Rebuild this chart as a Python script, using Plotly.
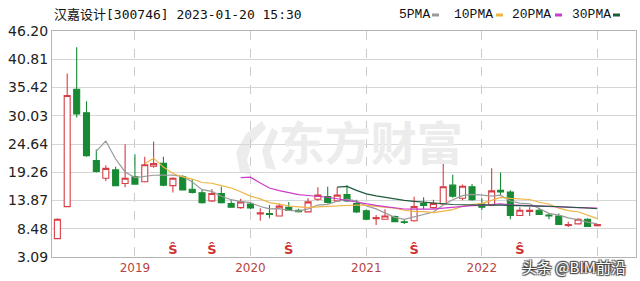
import plotly.graph_objects as go
import pandas as pd

# ---------------- data ----------------
months = pd.date_range("2018-05-01", periods=57, freq="MS").strftime("%Y-%m-%d").tolist()

opens = [6.6, 12.7, 35.1, 30.6, 21.5, 18.1, 19.7, 17.1, 18.4, 17.45, 20.4, 20.95,
         16.7, 18.4, 16.0, 15.35, 13.8, 15.2, 13.3, 12.5, 13.2, 11.3, 11.4, 10.9,
         12.55, 12.0, 11.7, 14.1, 14.6, 13.8, 15.0, 13.3, 11.9, 10.4, 10.3, 10.8,
         9.8, 10.0, 13.3, 12.5, 13.2, 16.8, 14.3, 16.5, 13.2, 13.0, 15.8, 15.5,
         11.0, 11.8, 12.0, 11.1, 10.9, 9.1, 9.4, 10.3, 9.05]
highs = [10.5, 38.1, 43.1, 32.8, 23.6, 20.6, 20.3, 24.6, 22.7, 22.2, 25.1, 22.2,
         18.3, 18.7, 17.9, 15.9, 16.0, 16.5, 13.9, 14.2, 13.6, 12.4, 13.0, 13.3,
         13.6, 12.3, 14.3, 16.4, 16.5, 16.4, 16.8, 14.0, 12.2, 11.1, 12.2, 11.0,
         10.2, 14.6, 14.5, 14.0, 21.3, 18.8, 16.9, 17.0, 14.3, 20.0, 19.2, 15.8,
         12.6, 12.6, 12.5, 11.5, 11.4, 9.8, 10.5, 10.5, 9.4]
lows = [6.5, 12.7, 29.7, 22.2, 19.2, 17.6, 16.6, 16.4, 16.9, 17.3, 20.1, 16.6,
        15.4, 15.8, 15.2, 13.3, 13.6, 13.3, 12.5, 12.3, 12.2, 10.0, 10.5, 10.8,
        11.85, 11.6, 11.6, 13.8, 13.3, 13.7, 13.6, 11.5, 10.1, 9.2, 10.2, 9.7,
        9.4, 9.8, 12.2, 12.3, 13.0, 14.4, 13.9, 13.8, 12.0, 12.8, 14.8, 10.3,
        10.9, 10.9, 11.1, 10.3, 9.2, 8.8, 9.3, 8.8, 8.9]
closes = [10.3, 33.9, 30.4, 22.4, 19.4, 20.0, 16.7, 18.1, 17.0, 20.7, 20.9, 16.8,
          18.1, 15.9, 15.4, 13.45, 15.2, 13.45, 12.6, 13.6, 12.45, 11.5, 11.2, 12.8,
          11.95, 11.75, 13.6, 14.9, 13.5, 14.9, 13.8, 11.7, 10.3, 10.6, 10.9, 9.8,
          9.7, 12.7, 12.9, 13.3, 16.5, 14.7, 16.6, 14.0, 12.6, 15.7, 15.5, 11.0,
          12.0, 12.0, 11.2, 10.9, 9.3, 9.3, 10.3, 8.9, 9.3]

dividend_months = ["2019-05-01", "2019-09-01", "2020-05-01", "2021-06-01", "2022-05-01"]

ma_names = ["5PMA", "10PMA", "20PMA", "30PMA"]
ma_periods = [5, 10, 20, 30]
ma_colors = ["#9a9a9a", "#efb443", "#cc3ccc", "#1e5a3c"]

y_ticks = [3.09, 8.48, 13.87, 19.26, 24.64, 30.03, 35.42, 40.81, 46.20]
y_tick_labels = ["3.09", "8.48", "13.87", "19.26", "24.64", "30.03", "35.42", "40.81", "46.20"]
year_ticks = ["2019-01-01", "2020-01-01", "2021-01-01", "2022-01-01", "2023-01-01"]
year_labels = ["2019", "2020", "2021", "2022", "2023"]

title_text = "汉嘉设计[300746] 2023-01-20 15:30"
watermark_text = "东方财富"
credit_text = "头条 @BIM前沿"

# ---------------- layout helpers ----------------
W, H = 640, 281
ML, MR, MT, MB = 52, 4, 31, 24
PW, PH = W - ML - MR, H - MT - MB


def px_x(p):
    return (p - ML) / PW


def px_y(p):
    return (H - MB - p) / PH


Y_MIN, Y_MAX = y_ticks[0], y_ticks[-1]
X_RANGE = ["2018-04-14", "2023-05-03"]

fig = go.Figure()

# watermark (drawn first so it stays beneath the candles)
fig.add_trace(go.Scatter(
    x=["2021-01-15"], y=[Y_MIN + (Y_MAX - Y_MIN) * 0.48], mode="text", text=[watermark_text],
    textfont=dict(family="Noto Sans CJK SC", size=46, color="#ececec", weight="bold"),
    hoverinfo="skip", showlegend=False))

fig.add_trace(go.Candlestick(
    x=months, open=opens, high=highs, low=lows, close=closes,
    increasing=dict(line=dict(color="#d63d45", width=1.1), fillcolor="#ffffff"),
    decreasing=dict(line=dict(color="#178a33", width=1.1), fillcolor="#178a33"),
    whiskerwidth=0, showlegend=False, hoverinfo="skip"))

close_s = pd.Series(closes)
for name, n, col in zip(ma_names, ma_periods, ma_colors):
    ma = close_s.rolling(n).mean()
    fig.add_trace(go.Scatter(
        x=months, y=ma.round(3).tolist(), mode="lines", name=name,
        line=dict(color=col, width=1.2), hoverinfo="skip", showlegend=False))

fig.add_trace(go.Scatter(
    x=dividend_months, y=[Y_MIN + 1.2] * len(dividend_months), mode="text",
    text=["Ŝ"] * len(dividend_months),
    textfont=dict(family="DejaVu Sans", size=13, color="#cc3333", weight="bold"),
    hoverinfo="skip", showlegend=False))

annotations = [
    dict(text=title_text, x=px_x(52), y=px_y(15), xref="paper", yref="paper",
         xanchor="left", yanchor="middle", showarrow=False,
         font=dict(family="DejaVu Sans Mono, Noto Sans CJK SC", size=13, color="#111111")),
    dict(text=credit_text, x=px_x(574), y=px_y(266), xref="paper", yref="paper",
         xanchor="center", yanchor="middle", showarrow=False,
         font=dict(family="Noto Sans CJK SC", size=15, color="#ffffff",
                   shadow="1px 1px 1px #444, -1px -1px 1px #444, 1px -1px 1px #444, -1px 1px 1px #444")),
]
shapes = []
legend_left = [397, 452, 510, 570]
legend_dash = [(432, 439), (496, 503), (555, 562), (613, 620)]
for name, col, lx, (d0, d1) in zip(ma_names, ma_colors, legend_left, legend_dash):
    annotations.append(dict(text=name, x=px_x(lx), y=px_y(15), xref="paper", yref="paper",
                            xanchor="left", yanchor="middle", showarrow=False,
                            font=dict(family="Liberation Mono", size=13, color="#111111")))
    shapes.append(dict(type="line", xref="paper", yref="paper",
                       x0=px_x(d0), x1=px_x(d1), y0=px_y(15), y1=px_y(15),
                       line=dict(color=col, width=3)))

# logo mark of the watermark (decorative swoosh)
pts = [(262, 121), (246, 134), (236, 152), (240, 172), (252, 175), (247, 160),
       (252, 143), (266, 128)]
path = "M " + " L ".join(f"{px_x(a):.4f},{px_y(b):.4f}" for a, b in pts) + " Z"
shapes.append(dict(type="path", xref="paper", yref="paper", path=path,
                   fillcolor="#ececec", line=dict(width=0), layer="below"))
pts2 = [(272, 128), (262, 150), (266, 168), (276, 170), (270, 152), (278, 132)]
path2 = "M " + " L ".join(f"{px_x(a):.4f},{px_y(b):.4f}" for a, b in pts2) + " Z"
shapes.append(dict(type="path", xref="paper", yref="paper", path=path2,
                   fillcolor="#ececec", line=dict(width=0), layer="below"))

fig.update_layout(
    width=W, height=H, margin=dict(l=ML, r=MR, t=MT, b=MB),
    paper_bgcolor="#ffffff", plot_bgcolor="#ffffff",
    showlegend=False, boxgap=0.25, boxgroupgap=0.1,
    annotations=annotations, shapes=shapes,
    xaxis=dict(type="date", range=X_RANGE, tickvals=year_ticks, ticktext=year_labels,
               tickfont=dict(family="DejaVu Sans", size=12, color="#b8443e"),
               showgrid=True, gridcolor="#cccccc", griddash="dash", gridwidth=1,
               showline=True, linecolor="#b4b4b4", linewidth=1, mirror=True,
               ticks="", rangeslider=dict(visible=False), zeroline=False),
    yaxis=dict(range=[Y_MIN, Y_MAX], tickvals=y_ticks, ticktext=y_tick_labels,
               tickfont=dict(family="DejaVu Sans", size=14, color="#222222"),
               showgrid=True, gridcolor="#d6d6d6", gridwidth=1,
               showline=True, linecolor="#b4b4b4", linewidth=1, mirror=True,
               ticks="", zeroline=False),
)

fig.write_html("out.html")
